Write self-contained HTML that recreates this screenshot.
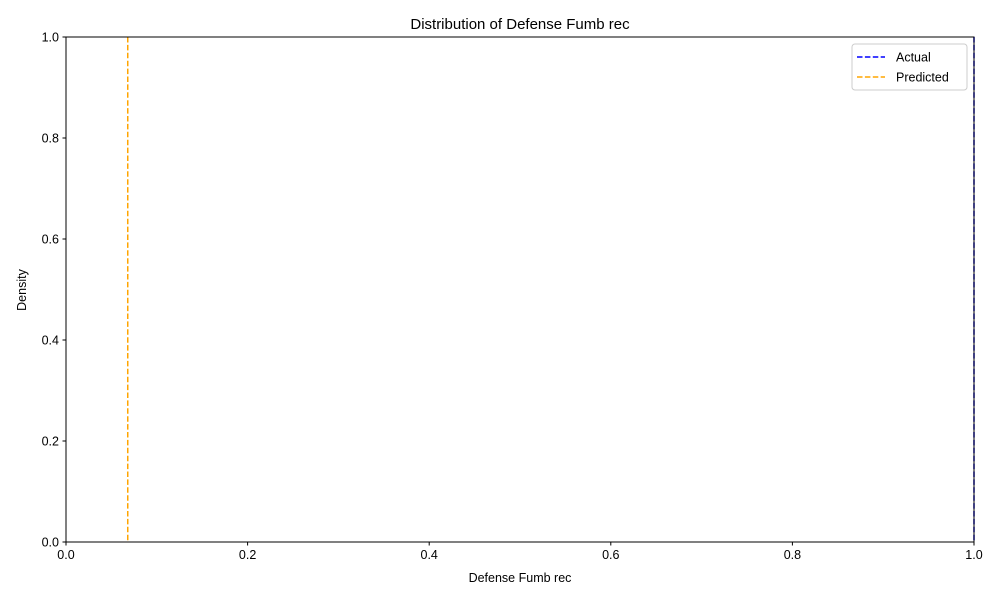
<!DOCTYPE html>
<html><head><meta charset="utf-8"><style>
body{margin:0;background:#fff;}
svg{display:block;font-family:"Liberation Sans","DejaVu Sans",sans-serif;}
</style></head><body>
<svg id="chart" width="1000" height="600"></svg>
<script>
const xTicks=[0.0,0.2,0.4,0.6,0.8,1.0];
const yTicks=[0.0,0.2,0.4,0.6,0.8,1.0];
const seriesNames=["Actual","Predicted"];
const seriesValues=[1.0,0.068];
const seriesColors=["#0000ff","#ffa500"];
const L=66,R=974,T=37,B=542;
const sx=v=>L+(v-0)/(1-0)*(R-L);
const sy=v=>B-(v-0)/(1-0)*(B-T);
const svg=document.getElementById('chart');
const NS="http://www.w3.org/2000/svg";
function mk(tag,attrs,parent){const e=document.createElementNS(NS,tag);for(const k in attrs)e.setAttribute(k,attrs[k]);(parent||svg).appendChild(e);return e;}
function txt(s,attrs){const e=mk('text',attrs);e.textContent=s;return e;}
// series lines
seriesValues.forEach((v,i)=>{
  const l=mk('line',{x1:sx(v),x2:sx(v),y1:T,y2:B,stroke:seriesColors[i],'stroke-width':1.5,'stroke-dasharray':'5.5,2.4'});
  
  
});
// axes frame
const fr=mk('rect',{x:L,y:T,width:R-L,height:B-T,fill:'none',stroke:'#000','stroke-width':1});


xTicks.forEach(v=>{
  mk('line',{x1:sx(v),x2:sx(v),y1:B,y2:B+3.5,stroke:'#000'});
  const t=txt(v.toFixed(1),{x:sx(v),y:B+17,'text-anchor':'middle','font-size':12.5});
  
  
});
yTicks.forEach(v=>{
  mk('line',{x1:L-3.5,x2:L,y1:sy(v),y2:sy(v),stroke:'#000'});
  const t=txt(v.toFixed(1),{x:L-7,y:sy(v)+4.5,'text-anchor':'end','font-size':12.5});
  
  
});
const ti=txt('Distribution of Defense Fumb rec',{x:(L+R)/2,y:29,'text-anchor':'middle','font-size':15});


const xl=txt('Defense Fumb rec',{x:(L+R)/2,y:582,'text-anchor':'middle','font-size':12.5});


const yl=txt('Density',{x:0,y:0,'text-anchor':'middle','font-size':12.5,transform:'translate(26,290) rotate(-90)'});


// legend
const lg=mk('rect',{x:852,y:44,width:115,height:46,rx:3,fill:'#fff','fill-opacity':0.8,stroke:'#ccc'});


seriesNames.forEach((n,i)=>{
  const y=57+i*20;
  mk('line',{x1:857,x2:885,y1:y,y2:y,stroke:seriesColors[i],'stroke-width':1.5,'stroke-dasharray':'5.5,2.4'});
  const t=txt(n,{x:896,y:y+4.5,'font-size':12.5});
  
  
});
</script>
</body></html>
